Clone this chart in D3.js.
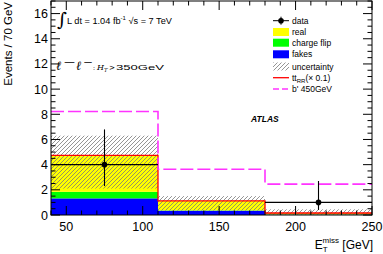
<!DOCTYPE html>
<html><head><meta charset="utf-8">
<script src="https://cdn.jsdelivr.net/npm/d3@7"></script>
<style>body{margin:0;background:#fff}svg{display:block;font-family:"Liberation Sans",Arial,sans-serif}</style>
</head><body><svg id="c" width="383" height="254"></svg>
<script>
const binEdges = [40, 110, 180, 250];
const fakes = [1.32, 0.34, 0.03];
const chargeFlip = [0.52, 0.03, 0.02];
const real = [2.9, 0.76, 0.11];
const uncLow = [2.1, 0.35, 0.02];
const uncHigh = [6.3, 1.5, 0.45];
const ttRR = [4.74, 1.13, 0.16];
const bprime = [8.22, 3.64, 2.45];
const dataX = [75, 215];
const dataY = [4, 1];
const dataLo = [2.3, 0.4];
const dataHi = [6.8, 2.7];
const dataBinLo = [40, 180];
const dataBinHi = [110, 250];
const xTicks = [50, 100, 150, 200, 250];
const yTicks = [0, 2, 4, 6, 8, 10, 12, 14, 16];

const svg = d3.select("#c");
const m = {l:51, r:11, t:1, b:39};
const W = 383, H = 254;
const x = d3.scaleLinear().domain([40, 250]).range([m.l, W - m.r]);
const y = d3.scaleLinear().domain([0, 17]).range([H - m.b, m.t]);

const defs = svg.append("defs");
const pat = defs.append("pattern").attr("id","hatch").attr("patternUnits","userSpaceOnUse")
  .attr("width",4).attr("height",4);
pat.append("path").attr("d","M-1,1 l2,-2 M0,4 l4,-4 M3,5 l2,-2").attr("stroke","#7a7a7a").attr("stroke-width",0.8);

const g = svg.append("g");
const bins = d3.range(binEdges.length - 1);
bins.forEach(i => {
  const x0 = x(binEdges[i]), x1 = x(binEdges[i+1]);
  let base = 0;
  [[fakes[i], "#0000ff"], [chargeFlip[i], "#00ff00"], [real[i], "#ffff00"]].forEach(([v, c]) => {
    g.append("rect").attr("x", x0).attr("width", x1 - x0)
      .attr("y", y(base + v)).attr("height", y(base) - y(base + v)).attr("fill", c);
    base += v;
  });
  g.append("rect").attr("x", x0).attr("width", x1 - x0)
    .attr("y", y(uncHigh[i])).attr("height", y(uncLow[i]) - y(uncHigh[i])).attr("fill", "url(#hatch)");
});

function stepPath(vals) {
  let p = "";
  bins.forEach(i => {
    const x0 = x(binEdges[i]), x1 = x(binEdges[i+1]), yy = y(vals[i]);
    p += (i === 0 ? "M" : "L") + x0 + "," + yy + "L" + x1 + "," + yy;
  });
  return p;
}
g.append("path").attr("d", stepPath(ttRR)).attr("fill","none").attr("stroke","#ff0000").attr("stroke-width",1.3);
g.append("path").attr("d", stepPath(bprime)).attr("fill","none").attr("stroke","#ff33ff").attr("stroke-width",1.6)
  .attr("stroke-dasharray","13,4");

dataX.forEach((dx, i) => {
  g.append("line").attr("x1", x(dataBinLo[i])).attr("x2", x(dataBinHi[i])).attr("y1", y(dataY[i])).attr("y2", y(dataY[i]))
    .attr("stroke","#000").attr("stroke-width",1.1);
  g.append("line").attr("x1", x(dx)).attr("x2", x(dx)).attr("y1", y(dataLo[i])).attr("y2", y(dataHi[i]))
    .attr("stroke","#000").attr("stroke-width",1.1);
  g.append("circle").attr("cx", x(dx)).attr("cy", y(dataY[i])).attr("r", 2.8).attr("fill","#000");
});

const ax = svg.append("g").attr("stroke","#000").attr("fill","none");
ax.append("rect").attr("x", m.l).attr("y", m.t).attr("width", W - m.l - m.r).attr("height", H - m.t - m.b).attr("stroke-width",1);

d3.range(40, 251, 10).forEach(v => {
  const len = v % 50 === 0 ? 9 : 4.5;
  ax.append("line").attr("x1", x(v)).attr("x2", x(v)).attr("y1", y(0)).attr("y2", y(0) - len);
  ax.append("line").attr("x1", x(v)).attr("x2", x(v)).attr("y1", y(17)).attr("y2", y(17) + len);
});
d3.range(0, 17.01, 0.5).forEach(v => {
  const len = Math.abs(v % 2) < 1e-6 ? 9 : 4.5;
  ax.append("line").attr("x1", m.l).attr("x2", m.l + len).attr("y1", y(v)).attr("y2", y(v));
  ax.append("line").attr("x1", W - m.r).attr("x2", W - m.r - len).attr("y1", y(v)).attr("y2", y(v));
});

const lab = svg.append("g").attr("fill","#000").attr("font-size", 12.5);
xTicks.forEach(v => lab.append("text").attr("x", x(v)).attr("y", H - m.b + 16).attr("text-anchor","middle").text(v));
yTicks.forEach(v => lab.append("text").attr("x", m.l - 3).attr("y", y(v) + 4.5).attr("text-anchor","end").text(v));

svg.append("text").attr("transform", `translate(12,2) rotate(-90)`).attr("text-anchor","end")
  .attr("font-size", 11.5).text("Events / 70 GeV");
const xt = svg.append("text").attr("x", W - m.r + 1).attr("y", 249).attr("text-anchor","end").attr("font-size", 12);
xt.append("tspan").text("E");
xt.append("tspan").attr("font-size", 8).attr("dy", 3).text("T");
xt.append("tspan").attr("font-size", 8).attr("dy", -9).attr("dx", -5).text("miss");
xt.append("tspan").attr("dy", 6).text(" [GeV]");

svg.append("text").attr("x", 57).attr("y", 26).attr("font-size", 19).attr("font-family","DejaVu Serif").text("∫");
const lt = svg.append("text").attr("x", 67).attr("y", 24).attr("font-size", 9.2);
lt.append("tspan").text("L dt = 1.04 fb");
lt.append("tspan").attr("font-size", 6).attr("dy", -4).text("-1");
lt.append("tspan").attr("dy", 4).text(" √s = 7 TeV");

const ch = svg.append("g").attr("fill","#000");
const bl = 69.5;
function piece(txt, x0, len, yy, fs, fam, style) {
  const t = ch.append("text").attr("x", x0).attr("y", yy).attr("font-size", fs)
    .attr("font-family", fam).attr("font-style", style || "normal").text(txt);
  if (len) t.attr("textLength", len).attr("lengthAdjust", "spacingAndGlyphs");
}
piece("ℓ", 56, 0, bl, 12.5, "DejaVu Serif", "italic");
piece("−", 63, 13, bl - 4.5, 9, "DejaVu Sans");
piece("ℓ", 76, 0, bl, 12.5, "DejaVu Serif", "italic");
piece("−", 83, 10, bl - 4.5, 9, "DejaVu Sans");
piece(":", 93, 2, bl, 8, "DejaVu Serif");
piece("H", 97, 7, bl, 8, "DejaVu Serif", "italic");
piece("T", 104, 3.5, bl + 2, 5.5, "DejaVu Serif", "italic");
piece(">", 109, 6, bl, 8, "DejaVu Serif");
piece("350GeV", 116, 48, bl, 8, "Liberation Sans");

svg.append("text").attr("x", 251).attr("y", 122).attr("font-size", 8.5).attr("font-weight","bold")
  .attr("font-style","italic").text("ATLAS");

const leg = svg.append("g").attr("font-size", 8.5);
const legNames = ["data", "real", "charge flip", "fakes", "uncertainty", "tt", "b' 450GeV"];
const rowY = [20.7, 32, 42.7, 54.3, 66.5, 77.7, 89];
const bx0 = 273, bx1 = 289;
legNames.forEach((n, i) => {
  const yy = rowY[i];
  if (i === 0) {
    leg.append("line").attr("x1", bx0).attr("x2", bx1).attr("y1", yy).attr("y2", yy).attr("stroke","#000");
    leg.append("line").attr("x1", 281).attr("x2", 281).attr("y1", yy - 4).attr("y2", yy + 4).attr("stroke","#000");
    leg.append("circle").attr("cx", 281).attr("cy", yy).attr("r", 2.8);
  } else if (i <= 3) {
    leg.append("rect").attr("x", bx0).attr("y", yy - 4).attr("width", bx1 - bx0).attr("height", 8)
      .attr("fill", ["","#ffff00","#00ff00","#0000ff"][i]);
  } else if (i === 4) {
    leg.append("rect").attr("x", bx0).attr("y", yy - 4).attr("width", bx1 - bx0).attr("height", 8).attr("fill","url(#hatch)");
  } else if (i === 5) {
    leg.append("line").attr("x1", bx0).attr("x2", bx1).attr("y1", yy).attr("y2", yy).attr("stroke","#ff0000").attr("stroke-width",1.3);
  } else {
    leg.append("line").attr("x1", bx0).attr("x2", bx1).attr("y1", yy).attr("y2", yy).attr("stroke","#ff33ff")
      .attr("stroke-width",1.5).attr("stroke-dasharray","6,3");
  }
  const t = leg.append("text").attr("x", 292).attr("y", yy + 3);
  if (i === 5) {
    t.append("tspan").text("tt");
    t.append("tspan").attr("font-size", 6).attr("dy", 2).text("RR");
    t.append("tspan").attr("dy", -2).text("(× 0.1)");
  } else t.text(n);
});
</script></body></html>
